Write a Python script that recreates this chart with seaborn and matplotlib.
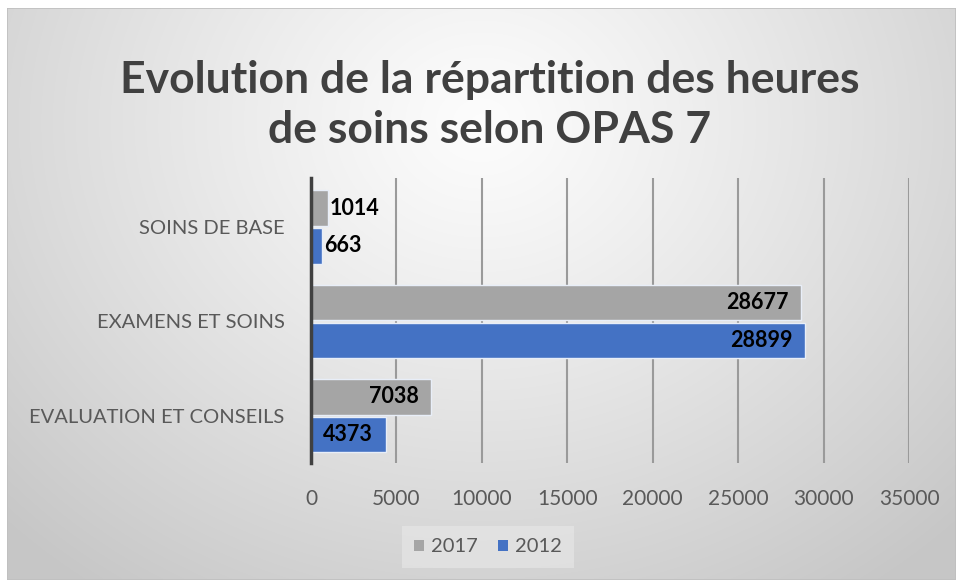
import numpy as np
import pandas as pd
import matplotlib
matplotlib.use("Agg")
import matplotlib.pyplot as plt
import seaborn as sns
from matplotlib.patches import Rectangle

categories = ["SOINS DE BASE", "EXAMENS ET SOINS", "EVALUATION ET CONSEILS"]
years = ["2017", "2012"]
values_2017 = [1014, 28677, 7038]
values_2012 = [663, 28899, 4373]
xticks = [0, 5000, 10000, 15000, 20000, 25000, 30000, 35000]
title = "Evolution de la répartition des heures\nde soins selon OPAS 7"

df = pd.DataFrame({
    "category": categories * 2,
    "year": ["2017"] * 3 + ["2012"] * 3,
    "value": values_2017 + values_2012,
})

sns.set_theme(style="white")
plt.rcParams["font.family"] = ["Lato", "DejaVu Sans"]

W, H = 956, 580
fig = plt.figure(figsize=(W / 100, H / 100), dpi=100)
fig.patch.set_facecolor("white")

# background gradient panel
bx0, by0, bx1, by1 = 7, 0, 956, 572
bg = fig.add_axes([bx0 / W, by0 / H, (bx1 - bx0) / W, (by1 - by0) / H])
bg.set_axis_off()
nx, ny = 400, 250
xx, yy = np.meshgrid(np.linspace(0, 1, nx), np.linspace(0, 1, ny))
cx, cy = 0.5, 0.2
d = np.sqrt(((xx - cx) / 0.7) ** 2 + ((yy - cy) / 1.0) ** 2)
d = np.clip(d, 0, 1)
col = 0.99 - 0.21 * d ** 1.15
img = np.dstack([col, col, col])
bg.imshow(img, extent=[0, 1, 0, 1], origin="upper", aspect="auto", interpolation="bilinear")
bg.set_xlim(0, 1)
bg.set_ylim(0, 1)
bg.add_patch(Rectangle((0, 0), 1, 1, fill=False, edgecolor="#bfbfbf", lw=1.2, transform=bg.transAxes))

# main axes
x0, x1 = 311, 909
y0, y1 = 178, 463
ax = fig.add_axes([x0 / W, 1 - y1 / H, (x1 - x0) / W, (y1 - y0) / H])
ax.set_facecolor("none")

palette = {"2017": "#a5a5a5", "2012": "#4472c4"}
sns.barplot(data=df, x="value", y="category", hue="year", hue_order=years,
            order=categories, palette=palette, width=0.8, gap=0.06,
            edgecolor="#e8eef8", linewidth=1.0, saturation=1, ax=ax)

ax.set_xlim(0, 35000)
ax.set_ylim(2.5, -0.52)
ax.set_xticks(xticks)
ax.set_xticklabels([str(t) for t in xticks])
ax.xaxis.grid(True, color="#9a9a9a", lw=1.5)
ax.set_axisbelow(True)
for s in ["top", "right", "bottom"]:
    ax.spines[s].set_visible(False)
ax.spines["left"].set_color("#404040")
ax.spines["left"].set_linewidth(2.5)
ax.spines["left"].set_zorder(5)
ax.tick_params(axis="x", length=0, pad=19, labelsize=15, labelcolor="#595959")
ax.tick_params(axis="y", length=0, pad=19, labelsize=14.5, labelcolor="#595959")
ax.set_xlabel("")
ax.set_ylabel("")

# data labels
for cont in ax.containers:
    for bar in cont:
        w = bar.get_width()
        yc = bar.get_y() + bar.get_height() / 2
        if w < 3000:
            ax.annotate(f"{int(round(w))}", (w, yc), xytext=(1, 0), textcoords="offset points",
                        ha="left", va="center", fontsize=15.5, fontweight="bold", color="black")
        else:
            ax.annotate(f"{int(round(w))}", (w, yc), xytext=(-9, 0), textcoords="offset points",
                        ha="right", va="center", fontsize=15.5, fontweight="bold", color="black")

# legend
leg = ax.legend(loc="center", bbox_to_anchor=(488 / W, 1 - 547 / H), bbox_transform=fig.transFigure,
                ncol=2, frameon=True, fontsize=14.5, handlelength=0.5, handleheight=0.5,
                handletextpad=0.35, columnspacing=1.0, borderpad=0.6)
leg.get_frame().set_facecolor("#eaeaea")
leg.get_frame().set_alpha(0.55)
leg.get_frame().set_edgecolor("none")
leg.get_frame().set_boxstyle("square", pad=0)
for t in leg.get_texts():
    t.set_color("#595959")
for h in leg.legend_handles:
    h.set_edgecolor("none")

fig.text(490 / W, 1 - 105 / H, title, ha="center", va="center", fontsize=32,
         fontweight="bold", color="#404040", linespacing=1.32)

fig.savefig("out.png", dpi=100)
